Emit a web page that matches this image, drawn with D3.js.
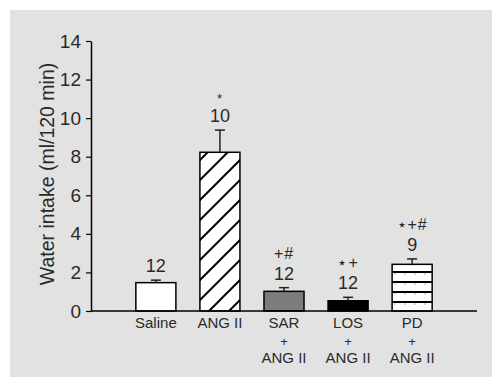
<!DOCTYPE html>
<html>
<head>
<meta charset="utf-8">
<script src="https://cdn.jsdelivr.net/npm/d3@7"></script>
<style>
  body { margin: 0; background: #fff; }
  svg text { font-family: "Liberation Sans", Arial, sans-serif; fill: #2a2a2a; }
</style>
</head>
<body>
<svg width="492" height="377"></svg>
<script>
// groups along the x axis
var groups = ["Saline", "ANG II", "SAR", "LOS", "PD"];
var subLabels = ["", "", "ANG II", "ANG II", "ANG II"];
// mean water intake (ml/120 min) and top of error bar
var means = [1.47, 8.23, 1.02, 0.53, 2.42];
var errTops = [1.6, 9.38, 1.21, 0.71, 2.7];
// n per group and significance marks
var nLabels = ["12", "10", "12", "12", "9"];
var sigMarks = ["", "*", "+#", "\u22c6+", "\u22c6+#"];
var yTicks = [0, 2, 4, 6, 8, 10, 12, 14];

var svg = d3.select("svg");

// grey panel
svg.append("rect")
  .attr("x", 10).attr("y", 10)
  .attr("width", 482).attr("height", 367)
  .attr("fill", "#e2e2e2");

var x = d3.scaleBand()
  .domain(groups)
  .range([91, 477])
  .paddingInner(0.375)
  .paddingOuter(0.7);

var y = d3.scaleLinear()
  .domain([0, 14])
  .range([311, 41]);

// fill patterns
var defs = svg.append("defs");
var hatch = defs.append("pattern")
  .attr("id", "hatch")
  .attr("patternUnits", "userSpaceOnUse")
  .attr("width", 20).attr("height", 20);
hatch.append("rect").attr("width", 20).attr("height", 20).attr("fill", "#fff");
hatch.append("path")
  .attr("d", "M-5,5 L5,-5 M0,20 L20,0 M15,25 L25,15")
  .attr("stroke", "#000").attr("stroke-width", 2);

var stripes = defs.append("pattern")
  .attr("id", "stripes")
  .attr("patternUnits", "userSpaceOnUse")
  .attr("x", 0).attr("y", 1)
  .attr("width", 10).attr("height", 10);
stripes.append("rect").attr("width", 10).attr("height", 10).attr("fill", "#fff");
stripes.append("line")
  .attr("x1", 0).attr("x2", 10).attr("y1", 1).attr("y2", 1)
  .attr("stroke", "#000").attr("stroke-width", 2);
stripes.append("line")
  .attr("x1", 5).attr("x2", 5).attr("y1", 2).attr("y2", 4)
  .attr("stroke", "#888").attr("stroke-width", 0.7);

var fills = ["#fff", "url(#hatch)", "#7c7c7c", "#000", "url(#stripes)"];

// bars
svg.selectAll("rect.bar")
  .data(groups)
  .enter()
  .append("rect")
    .attr("class", "bar")
    .attr("x", d => x(d))
    .attr("y", (d, i) => y(means[i]))
    .attr("width", x.bandwidth())
    .attr("height", (d, i) => y(0) - y(means[i]))
    .attr("fill", (d, i) => fills[i])
    .attr("stroke", "#000")
    .attr("stroke-width", 1.5);

// error bars (upper only)
var eb = svg.selectAll("g.err")
  .data(groups)
  .enter()
  .append("g")
    .attr("class", "err")
    .attr("transform", d => `translate(${x(d) + x.bandwidth() / 2},0)`);
eb.append("line")
  .attr("y1", (d, i) => y(means[i]))
  .attr("y2", (d, i) => y(errTops[i]))
  .attr("stroke", "#222").attr("stroke-width", 1.5);
eb.append("line")
  .attr("x1", -5).attr("x2", 5)
  .attr("y1", (d, i) => y(errTops[i]))
  .attr("y2", (d, i) => y(errTops[i]))
  .attr("stroke", "#222").attr("stroke-width", 1.5);

// n labels and significance marks
eb.append("text")
  .attr("text-anchor", "middle")
  .attr("y", (d, i) => y(errTops[i]) - 8)
  .attr("font-size", 18)
  .text((d, i) => nLabels[i]);
eb.append("text")
  .attr("text-anchor", "middle")
  .attr("y", (d, i) => y(errTops[i]) - (i === 1 ? 27 : 29))
  .attr("font-size", (d, i) => i === 1 ? 13 : 16)
  .attr("letter-spacing", 1)
  .text((d, i) => sigMarks[i]);

// y axis
var yAxis = svg.append("g")
  .attr("transform", "translate(91,0)")
  .call(d3.axisLeft(y).tickValues(yTicks).tickSize(5).tickSizeOuter(0).tickPadding(5));
yAxis.select(".domain").attr("stroke", "#000").attr("stroke-width", 1.5);
yAxis.selectAll(".tick line").attr("stroke", "#000").attr("stroke-width", 1.2);
yAxis.selectAll(".tick text")
  .attr("font-size", 19)
  .attr("font-family", "Liberation Sans, Arial, sans-serif")
  .attr("fill", "#2a2a2a");

// x baseline
svg.append("line")
  .attr("x1", 91).attr("x2", 477)
  .attr("y1", y(0)).attr("y2", y(0))
  .attr("stroke", "#000").attr("stroke-width", 1.5);

// x labels
var xl = svg.selectAll("g.xlab")
  .data(groups)
  .enter()
  .append("g")
    .attr("class", "xlab")
    .attr("transform", d => `translate(${x(d) + x.bandwidth() / 2},0)`);
xl.append("text")
  .attr("text-anchor", "middle")
  .attr("y", 328)
  .attr("font-size", 15)
  .text(d => d);
xl.filter((d, i) => subLabels[i] !== "")
  .append("text")
  .attr("text-anchor", "middle")
  .attr("y", 346)
  .attr("font-size", 13)
  .text("+");
xl.append("text")
  .attr("text-anchor", "middle")
  .attr("y", 363)
  .attr("font-size", 15)
  .text((d, i) => subLabels[i]);

// y title
svg.append("text")
  .attr("transform", "translate(54,174) rotate(-90)")
  .attr("text-anchor", "middle")
  .attr("font-size", 19.5)
  .text("Water intake (ml/120 min)");
</script>
</body>
</html>
